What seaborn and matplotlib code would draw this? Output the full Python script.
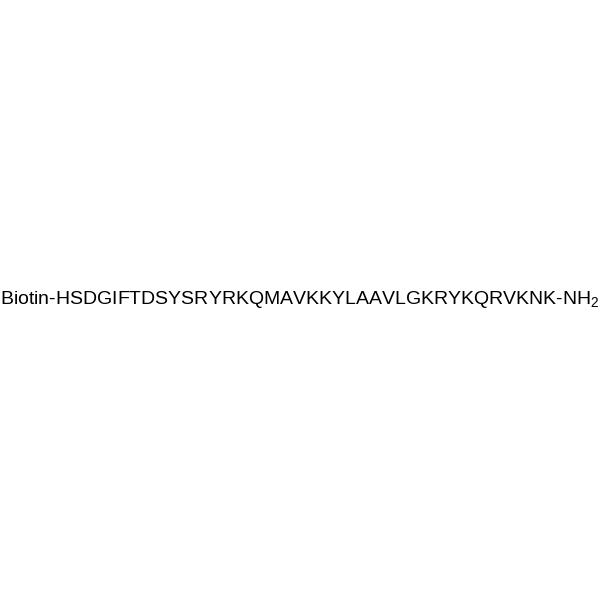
import matplotlib
matplotlib.use("Agg")
import matplotlib.pyplot as plt
import seaborn as sns

prefix = "Biotin"
sequence = "HSDGIFTDSYSRYRKQMAVKKYLAAVLGKRYKQRVKNK"
suffix = "NH"
suffix_sub = "2"

sns.set_theme(style="white")
plt.rcParams["font.family"] = ["Liberation Sans", "DejaVu Sans"]
plt.rcParams["mathtext.fontset"] = "custom"
plt.rcParams["mathtext.rm"] = "Liberation Sans"
plt.rcParams["mathtext.it"] = "Liberation Sans:italic"
plt.rcParams["mathtext.bf"] = "Liberation Sans:bold"

fig = plt.figure(figsize=(6, 6), dpi=100)
ax = fig.add_axes([0, 0, 1, 1])
ax.set_xlim(0, 1)
ax.set_ylim(0, 1)
ax.axis("off")

label = f"{prefix}-{sequence}-{suffix}$_{{\\mathrm{{{suffix_sub}}}}}$"
ax.text(0.5, 0.5, label, ha="center", va="center", fontsize=14, color="black")

fig.savefig("out.png", dpi=100, facecolor="white")
